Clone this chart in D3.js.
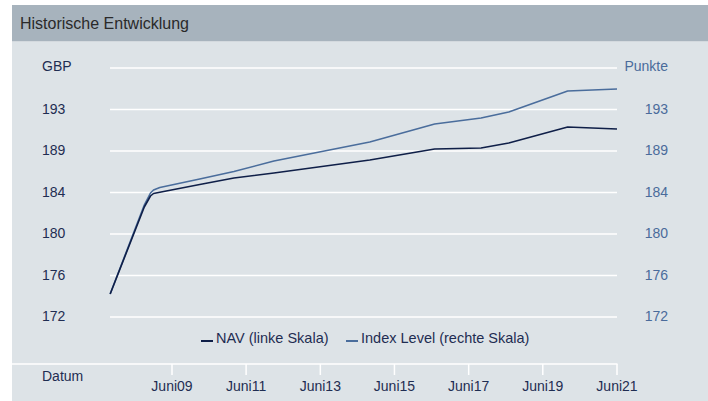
<!DOCTYPE html>
<html><head><meta charset="utf-8">
<script src="https://cdn.jsdelivr.net/npm/d3@7"></script>
<style>
html,body{margin:0;padding:0;background:#fff;}
svg{display:block;font-family:Arial,"Liberation Sans",sans-serif;}
</style></head>
<body>
<script>
const title = "Historische Entwicklung";
const dates = ["2007-10","2008-09","2008-11","2008-12","2009-02","2010-03","2011-02","2012-03","2014-10","2016-07","2017-10","2018-07","2020-02","2021-06"];
const navValues = [174.3,183.0,184.1,184.35,184.47,185.25,185.9,186.4,187.7,188.8,188.9,189.4,191.0,190.8];
const indexValues = [174.3,183.2,184.4,184.7,184.95,185.8,186.55,187.6,189.5,191.3,191.9,192.5,194.6,194.8];
const yTicks = [172,176.15,180.3,184.45,188.6,192.75];
const xTickDates = ["2009-06","2011-06","2013-06","2015-06","2017-06","2019-06","2021-06"];
const xTickLabels = ["Juni09","Juni11","Juni13","Juni15","Juni17","Juni19","Juni21"];
const legendLabels = ["NAV (linke Skala)","Index Level (rechte Skala)"];

const W=708,H=401;
const parse=d3.timeParse("%Y-%m");
const svg=d3.select("body").append("svg").attr("width",W).attr("height",H);

svg.append("rect").attr("x",12).attr("y",5).attr("width",W-12).attr("height",36.5).attr("fill","#a7b3bd");
svg.append("rect").attr("x",12).attr("y",42).attr("width",W-12).attr("height",H-42).attr("fill","#dde3e7");
svg.append("text").attr("x",20).attr("y",29).attr("font-size",16).attr("fill","#2a2a2a").text(title);

const x=d3.scaleTime().domain([parse("2009-06"),parse("2021-06")]).range([172,617]);
const y=d3.scaleLinear().domain([172,196.9]).range([317,68]);

const leftCol="#1f2d52", rightCol="#4a6b9b", navCol="#0f1f48", idxCol="#4a6d9c";
const fs=14;

// gridlines
const gridVals=yTicks.concat([196.9]);
svg.append("g").selectAll("line").data(gridVals).join("line")
  .attr("x1",110).attr("x2",617).attr("y1",d=>y(d)).attr("y2",d=>y(d))
  .attr("stroke","#fff").attr("stroke-width",1.5);

// left axis labels
const fmt=d3.format(".0f");
svg.append("g").selectAll("text").data(yTicks).join("text")
  .attr("x",42).attr("y",d=>y(d)+4).attr("font-size",fs).attr("fill",leftCol).text(d=>fmt(d));
svg.append("text").attr("x",42).attr("y",y(196.9)+3).attr("font-size",fs).attr("fill",leftCol).text("GBP");
// right axis labels
svg.append("g").selectAll("text").data(yTicks).join("text")
  .attr("x",668).attr("y",d=>y(d)+4).attr("text-anchor","end").attr("font-size",fs).attr("fill",rightCol).text(d=>fmt(d));
svg.append("text").attr("x",668).attr("y",y(196.9)+3).attr("text-anchor","end").attr("font-size",fs).attr("fill",rightCol).text("Punkte");

// x axis
svg.append("line").attr("x1",12).attr("x2",617.5).attr("y1",364).attr("y2",364).attr("stroke","#fff").attr("stroke-width",1.5);
const xt=svg.append("g").selectAll("g").data(xTickDates).join("g");
xt.append("line").attr("x1",d=>x(parse(d))).attr("x2",d=>x(parse(d))).attr("y1",364).attr("y2",375).attr("stroke","#fff").attr("stroke-width",1.5);
xt.append("text").attr("x",d=>x(parse(d))).attr("y",391).attr("text-anchor","middle").attr("font-size",fs).attr("fill",leftCol).text((d,i)=>xTickLabels[i]);
svg.append("text").attr("x",42).attr("y",381).attr("font-size",fs).attr("fill",leftCol).text("Datum");

// lines
const line=d3.line().x(d=>x(parse(d[0]))).y(d=>y(d[1])).curve(d3.curveLinear);
svg.append("path").datum(dates.map((d,i)=>[d,indexValues[i]])).attr("d",line).attr("fill","none").attr("stroke",idxCol).attr("stroke-width",1.6).attr("stroke-linejoin","round");
svg.append("path").datum(dates.map((d,i)=>[d,navValues[i]])).attr("d",line).attr("fill","none").attr("stroke",navCol).attr("stroke-width",1.6).attr("stroke-linejoin","round");

// legend
const lg=svg.append("g");
lg.append("line").attr("x1",201).attr("x2",213).attr("y1",341).attr("y2",341).attr("stroke",navCol).attr("stroke-width",2);
lg.append("text").attr("x",216).attr("y",343).attr("font-size",14.5).attr("fill",leftCol).text(legendLabels[0]);
lg.append("line").attr("x1",346).attr("x2",358).attr("y1",341).attr("y2",341).attr("stroke",idxCol).attr("stroke-width",2);
lg.append("text").attr("x",361).attr("y",343).attr("font-size",14.5).attr("fill",leftCol).text(legendLabels[1]);
</script>
</body></html>
